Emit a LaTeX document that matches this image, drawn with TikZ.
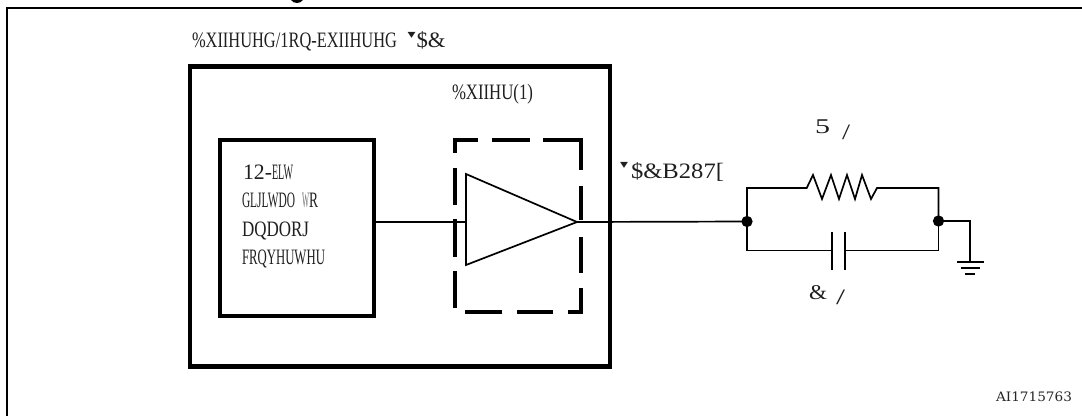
\documentclass[tikz,border=0pt]{standalone}
\usepackage{fontspec}
\usepackage{graphicx}
\setmainfont{Liberation Serif}
\newfontfamily\symf{DejaVu Sans}
\newfontfamily\idf{DejaVu Serif}
\newcommand{\fitw}[2]{\resizebox{#1pt}{\height}{#2}}
\tikzset{
  x=1pt,y=-1pt,
  lbl/.style={anchor=base west,inner sep=0pt,outer sep=0pt,font=\fontsize{22}{22}\selectfont,text=black!88},
  thickbox/.style={draw=black,line width=4.4pt,inner sep=0pt,outer sep=0pt,fill=none},
  wire/.style={draw=black,line width=1.7pt,line join=miter},
  dashbox/.style={draw=black,line width=4pt},
  joint/.style={circle,fill=black,inner sep=0pt,minimum size=11.3pt,outer sep=0pt},
}
\begin{document}
\begin{tikzpicture}
\useasboundingbox (0,0) rectangle (1082,416);
% outer frame
\coordinate (ftr) at (1082,8);
\coordinate (ftl) at (7,8);
\coordinate (fbl) at (7,416);
\draw[black,line width=2pt] (ftr) -- (ftl) -- (fbl);
% remnant of heading above the frame
\fill[black] (291,0) .. controls (294,4) and (300,4) .. (303,0) -- cycle;
% boxes
\node[thickbox,minimum width=420pt,minimum height=300pt] (big) at (400,216.5) {};
\node[thickbox,minimum width=154pt,minimum height=176pt] (conv) at (297,228) {};
% dashed box
\draw[dashbox]
  (453,140) -- (478,140) (492,140) -- (530,140) (543,140) -- (583,140)
  (581,140) -- (581,170) (581,186) -- (581,220) (581,237) -- (581,273) (581,288) -- (581,314)
  (583,312) -- (568,312) (553,312) -- (517,312) (502,312) -- (465,312)
  (455,308) -- (455,271) (455,257) -- (455,219) (455,205) -- (455,168) (455,153) -- (455,140);
% amplifier
\coordinate (ampt) at (466,174);
\coordinate (ampb) at (466,265);
\coordinate (ampo) at (577,222);
\coordinate (ampi) at (466,222);
\draw[wire,line join=miter] (ampt) -- (ampo) -- (ampb) -- cycle;
% joints
\node[joint] (ja) at (747,221.5) {};
\node[joint] (jb) at (938.5,221) {};
% connectors
\draw[wire] (conv.east |- ampi) -- (ampi);
\draw[wire] (ampo) -- (ja.center);
\coordinate (rl) at (806.7,188);
\coordinate (rr) at (877,188);
\coordinate (cl) at (832,250.5);
\coordinate (cr) at (845,250.5);
\draw[wire] (ja.center) -- (ja.center |- rl) -- (rl)
  -- (813,175) -- (822,199) -- (831,175) -- (839,199) -- (847,175) -- (855,199) -- (862,175) -- (871,199)
  -- (rr) -- (jb.center |- rr) -- (jb.center);
\draw[wire] (ja.center) -- (ja.center |- cl) -- (cl);
\draw[wire] (cr) -- (jb.center |- cr) -- (jb.center);
\coordinate (ct) at (0,232);
\coordinate (cb) at (0,270);
\draw[wire] (cl |- ct) -- (cl |- cb);
\draw[wire] (cr |- ct) -- (cr |- cb);
\coordinate (gnd) at (970,262);
\draw[wire] (jb.center) -- (gnd |- jb.center) -- (gnd);
\draw[wire] (957,262) -- (984,262) (961,268) -- (980,268) (965,273.7) -- (975,273.7);
% labels
\node[lbl] (t1) at (192,47.6) {\fitw{205}{\%XIIHUHG/1RQ-EXIIHUHG}};
\node[lbl] (t1a) at (407.5,47.6) {\fitw{8}{\raisebox{9pt}{\symf\fontsize{12}{12}\selectfont ▾}}\hspace{1pt}\fitw{29}{\$\&}};
\node[lbl] (t2) at (452,99) {\fitw{81}{\%XIIHU(1)}};
\node[lbl] (c1) at (243,179) {\fitw{29}{12-}\fitw{21}{ELW}};
\node[lbl] (c2) at (242,207) {\fitw{53}{GLJLWDO}\hspace{7pt}\fitw{7}{\textcolor{black!55}{W}}\fitw{9}{R}};
\node[lbl] (c3) at (242,236) {\fitw{67}{DQDORJ}};
\node[lbl] (c4) at (242,264) {\fitw{83}{FRQYHUWHU}};
\node[lbl] (o1) at (620,178) {\fitw{8}{\raisebox{10pt}{\symf\fontsize{12}{12}\selectfont ▾}}\hspace{3pt}\fitw{93}{\$\&B287[}};
\node[lbl] (r1) at (815,133) {\fitw{15}{\fontsize{21}{21}\selectfont 5}};
\node[lbl] (r2) at (842,139) {\fitw{8}{/}};
\node[lbl] (k1) at (809,299) {\fitw{18}{\fontsize{21}{21}\selectfont \&}};
\node[lbl] (k2) at (836,304) {\fitw{9}{/}};
\node[lbl,text=black!85] (id) at (996,401) {\fitw{76}{\idf\fontsize{13}{13}\selectfont AI1715763}};
\end{tikzpicture}
\end{document}
